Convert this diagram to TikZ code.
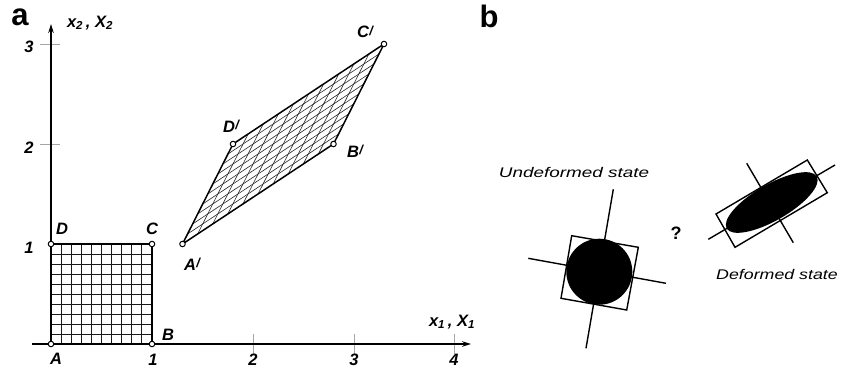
\documentclass[tikz,border=0pt]{standalone}
\usepackage{fontspec}
\setmainfont{Liberation Sans}
\usetikzlibrary{arrows.meta,calc}
\tikzset{
  axisline/.style={line width=1.7pt,-{Stealth[length=9pt,width=5.5pt]}},
  tickline/.style={line width=0.8pt,gray!70},
  gridline/.style={line width=0.9pt,black!90},
  hatchline/.style={line width=0.6pt,black!85},
  border/.style={line width=1.5pt},
  vtx/.style={circle,draw,fill=white,line width=1pt,inner sep=0pt,minimum size=5.5pt},
  lbl/.style={font=\fontsize{16.5}{18}\selectfont\bfseries\itshape,inner sep=0pt},
  panel/.style={font=\fontsize{31}{34}\selectfont\bfseries,inner sep=0pt},
  statelbl/.style={font=\fontsize{14}{16}\selectfont\itshape,inner sep=0pt},
  outl/.style={line width=1.4pt},
}
\newcommand{\pr}[1]{#1\kern0.3pt\raisebox{0.3ex}{\fontsize{13}{14}\selectfont /}}
\begin{document}
\begin{tikzpicture}[x=1pt,y=-1pt]
\useasboundingbox (0,0) rectangle (842,372);
% ---------- panel a ----------
\node[panel] (la) at (20,17) {a};
% axes
\coordinate (O) at (51,344);
\coordinate (xs) at (32,344);
\coordinate (xe) at (471,344);
\coordinate (ye) at (51,24);
% ticks
\draw[tickline] (253,334) -- (253,354);
\draw[tickline] (354,334) -- (354,354);
\draw[tickline] (454,334) -- (454,354);
\draw[tickline] (40,144) -- (60,144);
\draw[tickline] (40,44) -- (60,44);
% square corners
\coordinate (A) at (51,344);
\coordinate (B) at (152,344);
\coordinate (C) at (152,244);
\coordinate (D) at (51,244);
% grid
\foreach \i in {1,...,9}{
  \draw[gridline] ($(A)!\i/10!(B)$) -- ($(D)!\i/10!(C)$);
  \draw[gridline] ($(A)!\i/10!(D)$) -- ($(B)!\i/10!(C)$);
}
\draw[border] (A) -- (B) -- (C) -- (D) -- cycle;
\draw[axisline] (xs) -- (xe);
\draw[axisline] (O) -- (ye);
% parallelogram
\coordinate (Ap) at (182.5,244);
\coordinate (Bp) at (333.5,144);
\coordinate (Cp) at (384,44);
\coordinate (Dp) at (233,144);
\foreach \i in {1,...,9}{
  \draw[hatchline] ($(Ap)!\i/10!(Bp)$) -- ($(Dp)!\i/10!(Cp)$);
  \draw[hatchline] ($(Ap)!\i/10!(Dp)$) -- ($(Bp)!\i/10!(Cp)$);
}
\draw[border] (Ap) -- (Bp) -- (Cp) -- (Dp) -- cycle;
% vertex markers
\node[vtx] (vA) at (A) {};
\node[vtx] (vB) at (B) {};
\node[vtx] (vC) at (C) {};
\node[vtx] (vD) at (D) {};
\node[vtx] (vAp) at (Ap) {};
\node[vtx] (vBp) at (Bp) {};
\node[vtx] (vCp) at (Cp) {};
\node[vtx] (vDp) at (Dp) {};
% labels
\node[lbl] (tA) at (56,359) {A};
\node[lbl] (tB) at (168,335) {B};
\node[lbl] (tC) at (152,229) {C};
\node[lbl] (tD) at (62,229) {D};
\node[lbl] (tAp) at (192,264) {\pr{A}};
\node[lbl] (tBp) at (355,151) {\pr{B}};
\node[lbl] (tCp) at (365,32) {\pr{C}};
\node[lbl] (tDp) at (231,126) {\pr{D}};
\node[lbl] (tx1) at (153,360) {1};
\node[lbl] (tx2) at (253,360) {2};
\node[lbl] (tx3) at (354,360) {3};
\node[lbl] (tx4) at (454,360) {4};
\node[lbl] (ty1) at (29,248) {1};
\node[lbl] (ty2) at (29,148) {2};
\node[lbl] (ty3) at (29,47) {3};
\node[lbl] (xlab) at (452,322) {x\textsubscript{1}\,, X\textsubscript{1}};
\node[lbl] (ylab) at (90,23) {x\textsubscript{2}\,, X\textsubscript{2}};
% ---------- panel b ----------
\node[panel] (lb) at (489,16) {b};
\node[statelbl] (und) at (574,172) {\scalebox{1.35}[1]{Undeformed state}};
\node[statelbl] (def) at (777,274) {\scalebox{1.27}[1]{Deformed state}};
\node[font=\fontsize{18}{20}\selectfont\bfseries,inner sep=0pt] (q) at (676,233) {?};
% undeformed
\coordinate (u1) at (571.7,235.7);
\coordinate (u2) at (638.3,247.3);
\coordinate (u3) at (626.7,310);
\coordinate (u4) at (561,298.3);
\draw[outl] (u1) -- (u2) -- (u3) -- (u4) -- cycle;
\coordinate (uv1) at (613.3,189.3);
\coordinate (uv2) at (586,348.3);
\coordinate (uh1) at (528.3,258.3);
\coordinate (uh2) at (666,283.3);
\draw[outl] (uv1) -- (uv2);
\draw[outl] (uh1) -- (uh2);
\coordinate (uc) at (599.3,271.7);
\fill (uc) circle [radius=33pt];
% deformed
\coordinate (d1) at (716,214);
\coordinate (d2) at (807.3,160);
\coordinate (d3) at (827.3,192.7);
\coordinate (d4) at (735,247.3);
\draw[outl] (d1) -- (d2) -- (d3) -- (d4) -- cycle;
\coordinate (dl1) at (708.3,239.3);
\coordinate (dl2) at (835,165);
\coordinate (ds1) at (746.7,163.3);
\coordinate (ds2) at (793.3,242.7);
\draw[outl] (dl1) -- (dl2);
\draw[outl] (ds1) -- (ds2);
\coordinate (dc) at (771.7,202.5);
\fill[rotate around={30:(dc)}] (dc) ellipse [x radius=52pt, y radius=18pt];
\end{tikzpicture}
\end{document}
